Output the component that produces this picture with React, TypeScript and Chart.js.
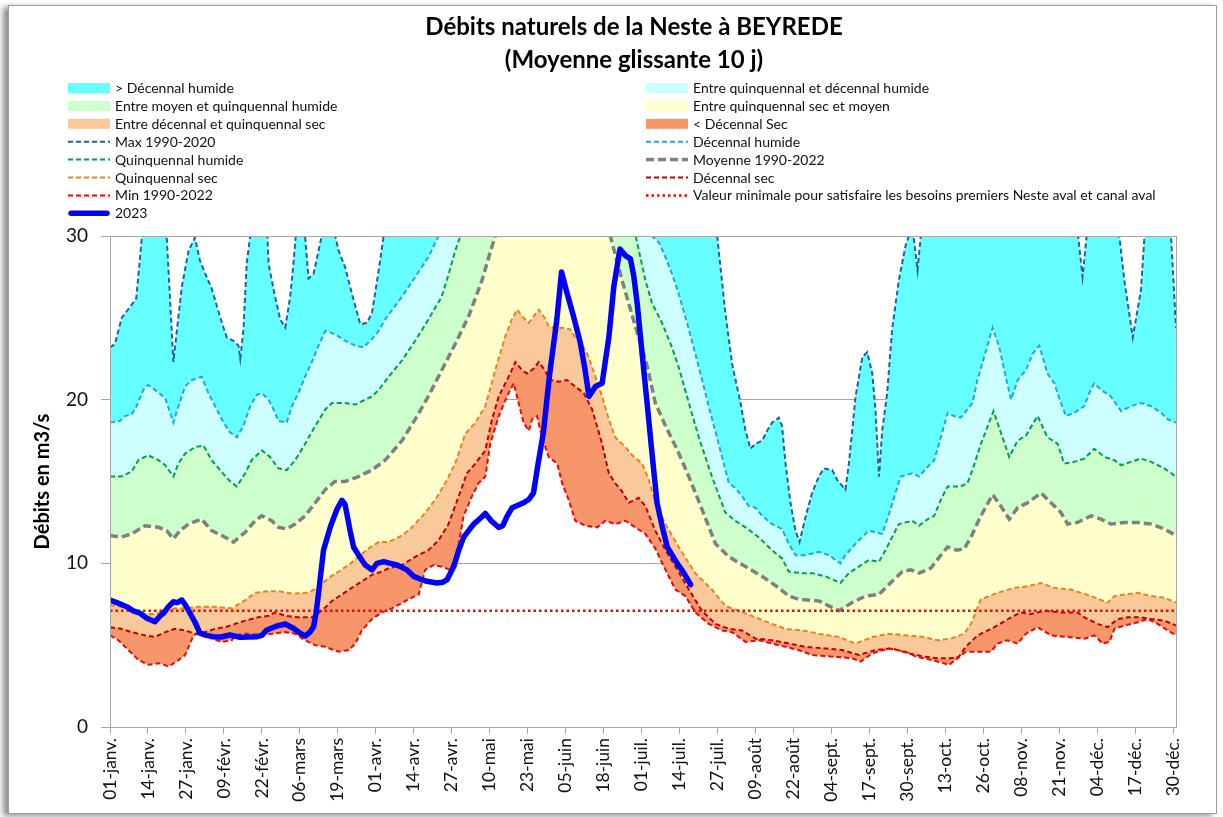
import React, { useEffect, useRef } from "react";
import { Chart, registerables } from "chart.js";

Chart.register(...registerables);

const FONT = "Lato, 'Open Sans', sans-serif";

const titleLines = ["Débits naturels de la Neste à BEYREDE", "(Moyenne glissante 10 j)"];
const yAxisTitle = "Débits en m3/s";

const tickLabels = [
  "01-janv.", "14-janv.", "27-janv.", "09-févr.", "22-févr.", "06-mars", "19-mars", "01-avr.",
  "14-avr.", "27-avr.", "10-mai", "23-mai", "05-juin", "18-juin", "01-juil.", "14-juil.",
  "27-juil.", "09-août", "22-août", "04-sept.", "17-sept.", "30-sept.", "13-oct.", "26-oct.",
  "08-nov.", "21-nov.", "04-déc.", "17-déc.", "30-déc.",
];
const tickDays = [
  0, 13, 26, 39, 52, 65, 78, 91, 104, 117, 130, 143, 156, 169, 182, 195,
  208, 221, 234, 247, 260, 273, 286, 299, 312, 325, 338, 351, 364,
];

// Max 1990-2020
const maxDays = [
  0, 1.7, 4, 7, 9, 12.5, 15, 18.5, 21.7, 23, 24.6, 26.9, 29.1, 30.8, 32.6, 34.8, 38.3, 40, 42.3, 44, 44.6,
  45.7, 46.8, 48, 51, 53, 54.3, 56.5, 58.3, 60, 61.7, 62.8, 63.6, 65.5, 66.8, 68, 69.7, 71.4, 72.5, 74.5,
  77.1, 78.3, 80.5, 82.8, 85.7, 88, 89.7, 92, 93.7, 100, 150, 200, 207.9, 210.7, 213, 215.9, 217.6, 219.3,
  221, 223.3, 225, 226.7, 229, 230.1, 231.3, 233, 234.7, 236.1, 238.1, 240.4, 242.7, 244.4, 247.3, 249,
  251.8, 253, 255.3, 257.6, 259.3, 261, 262.1, 263.3, 264.4, 266.1, 267.8, 270.1, 272.4, 273.5, 274.5,
  276.5, 277.6, 285, 320, 331.5, 333, 334.4, 340, 345.6, 347.3, 350.2, 353, 354.2, 359, 363.3, 365,
];
const maxVals = [
  23.2, 23.4, 25.0, 25.7, 26.2, 33, 36, 33, 22.3, 24.4, 26.9, 29.1, 29.9, 28.5, 27.7, 26.8, 24.7, 23.8, 23.6, 23.3, 22.5,
  24.3, 28.3, 30.0, 30.5, 34, 28.3, 26.3, 24.9, 24.4, 26.3, 28.3, 30, 32, 30, 27.4, 27.7, 29.1, 30, 32.5,
  30, 29.1, 28.1, 26.5, 24.6, 24.7, 25.3, 27.9, 30, 38, 45, 36, 30, 25.3, 22.2, 19.8, 18.1, 17.0,
  17.3, 17.5, 18.1, 18.6, 18.9, 18.4, 16.1, 13.7, 12.0, 11.3, 12.8, 14.3, 15.3, 15.8, 15.7, 15.1,
  14.5, 16.1, 20.2, 22.6, 22.9, 21.6, 19.4, 15.3, 18.1, 20.4, 24.3, 27.3, 29.4, 30, 31,
  27.9, 30, 38, 40, 30, 27.5, 30, 34, 30, 27.3, 23.8, 26.7, 30, 33, 30, 24.4,
];

// Décennal humide
const decHumDays = [
  0, 3.4, 5.1, 7.4, 9.1, 11.4, 13.1, 15.4, 18.9, 20.6, 21.7, 23.4, 25.7, 28, 31.4, 33.7, 36, 38.3, 41.1, 43.4,
  45.7, 48, 50.3, 52, 54.3, 56, 57.7, 60.5, 62.3, 64.5, 66.8, 69.1, 71.4, 73.7, 77.1, 80.5, 84, 86.8, 89.7, 92,
  94.2, 100, 104.5, 109, 112.5, 120, 150, 180, 185.6, 188, 190.2, 192.4, 194.7, 198.2, 201.6, 205, 208.4,
  211.9, 214.1, 216.4, 218.7, 221, 223.3, 226.7, 230.1, 232.4, 234.7, 238.1, 242.7, 246.1, 250.1, 251.8,
  255.3, 259.8, 262.1, 264.4, 266.7, 270.7, 274.7, 277, 280, 282.2, 284.5, 286.8, 289, 291.3, 293.6, 295.3,
  297, 299.3, 302.2, 304.5, 306.2, 308.5, 310.8, 313.6, 315.9, 318.2, 321, 323.3, 325.6, 327.3, 330.2, 333.6,
  335.3, 337, 339.3, 342.7, 346.2, 349.6, 353, 356.5, 359.9, 362.2, 365,
];
const decHumVals = [
  18.6, 18.7, 19.0, 19.1, 19.6, 20.6, 20.9, 20.6, 20.1, 19.2, 18.6, 19.6, 20.8, 21.2, 21.4, 20.4, 19.6, 18.8, 18.0, 17.7,
  18.4, 19.6, 20.3, 20.4, 20.0, 19.4, 18.7, 18.6, 19.6, 20.4, 21.4, 22.3, 23.3, 24.2, 24.0, 23.6, 23.3, 23.2, 23.7, 24.2,
  24.9, 26.3, 27.5, 28.7, 30, 34, 40, 33, 30, 29.6, 28.7, 27.7, 26.5, 24.3, 22.0, 19.6, 17.3,
  14.9, 14.6, 14.1, 13.5, 13.4, 12.9, 12.4, 12.1, 11.2, 10.5, 10.5, 10.7, 10.5, 10.0, 10.5,
  11.2, 12.0, 11.9, 11.8, 13.0, 15.3, 15.5, 15.3, 15.9, 16.3, 17.7, 19.2, 19.0, 18.9, 19.4, 19.8,
  21.2, 22.6, 24.4, 23.2, 21.8, 20.0, 21.2, 21.8, 22.8, 23.3, 21.6, 21.0, 19.8, 19.0, 19.2, 19.6,
  20.4, 21.0, 20.6, 20.2, 19.3, 19.6, 19.8, 19.6, 19.2, 18.8, 18.6,
];

// Quinquennal humide
const quinqHumDays = [
  0, 3.7, 7.4, 9.7, 13.1, 16.6, 18.9, 21.7, 23.4, 25.7, 29.1, 32, 34.8, 37.7, 40.6, 43.4, 46.3, 48.5, 52, 54.8,
  57.7, 60.5, 63.4, 66.8, 70.3, 73.7, 76, 80.5, 84, 87.4, 89.7, 92, 95.4, 100, 104.5, 109, 113.6, 116, 118.2,
  120, 140, 165, 180, 183.3, 185.6, 189, 192.4, 194.7, 198.2, 201.6, 206.1, 210.7, 214.1, 217.6, 222.1, 226.7,
  230.1, 232.4, 237, 240.4, 245, 250.1, 253, 256.4, 259.8, 263.3, 265.5, 270.1, 274.7, 277, 280, 282.2, 284.5,
  286.8, 291.3, 293.6, 295.3, 298.2, 302.5, 305, 307.9, 310.8, 313.6, 317.6, 321, 324.5, 326.7, 330.2, 333.6,
  337, 340.5, 343.9, 346.2, 349.6, 353, 356.5, 361, 365,
];
const quinqHumVals = [
  15.3, 15.3, 15.6, 16.3, 16.6, 16.3, 16.0, 15.3, 16.1, 16.7, 17.1, 17.2, 16.3, 15.7, 15.1, 14.7, 15.5, 16.3, 16.9, 16.5,
  15.8, 15.7, 16.3, 17.3, 18.4, 19.4, 19.8, 19.8, 19.7, 20.0, 20.2, 20.6, 21.4, 22.4, 23.6, 24.9, 26.3, 27.7, 29.1,
  30, 38, 40, 30, 27.3, 25.9, 24.7, 23.2, 22.0, 19.8, 17.7, 15.3, 13.1, 12.6, 12.2, 11.6, 10.8,
  10.3, 9.5, 9.4, 9.4, 9.2, 8.8, 9.4, 9.8, 10.2, 10.1, 10.8, 12.4, 12.6, 12.3, 12.7, 12.9, 13.9,
  14.7, 14.7, 14.9, 15.7, 17.3, 19.3, 18.0, 16.5, 17.5, 17.8, 19.0, 17.7, 17.3, 16.1, 16.2, 16.4,
  17.0, 16.5, 16.3, 16.0, 16.2, 16.4, 16.2, 15.8, 15.3,
];

// Moyenne 1990-2022
const moyDays = [
  0, 3.7, 7.4, 12, 16.6, 19.4, 21.7, 24, 26.9, 31.4, 34.8, 38.3, 42.3, 46.3, 49.7, 52, 55.4, 57.7, 60.5, 63.4,
  66.8, 70.3, 73.7, 77, 80.5, 85.1, 89.7, 94.2, 100, 104.5, 109, 113.6, 118.2, 122.8, 127.4, 130, 131.9, 150,
  165, 171.3, 175, 179.2, 184, 186.7, 190.2, 194.3, 198.2, 202.7, 207.3, 211.9, 217.6, 223.3, 229, 232.4, 235.8,
  242.7, 246.1, 249.6, 254.1, 258.7, 263.3, 267.8, 271.3, 274.2, 277, 281, 284.5, 286.8, 290, 292.5, 294.8,
  298.2, 302.2, 305, 307.9, 310.8, 314.2, 318.8, 322.2, 325.6, 327.9, 331.3, 335.9, 339.3, 342.7, 347.3, 351.9,
  356.5, 361, 365,
];
const moyVals = [
  11.7, 11.6, 11.8, 12.3, 12.2, 12.0, 11.5, 12.0, 12.4, 12.7, 12.0, 11.7, 11.3, 11.9, 12.6, 12.9, 12.6, 12.2, 12.1, 12.4,
  12.9, 13.7, 14.5, 15.0, 15.0, 15.3, 15.7, 16.3, 17.5, 18.8, 20.2, 21.8, 23.4, 25.1, 27.3, 28.9, 30, 38,
  34, 30, 27.5, 24.9, 22.0, 19.8, 18.4, 16.9, 15.3, 13.3, 11.2, 10.4, 9.8, 9.2, 8.5, 8.0, 7.8,
  7.7, 7.4, 7.1, 7.6, 8.0, 8.1, 8.9, 9.5, 9.6, 9.4, 9.7, 10.5, 11.0, 10.8, 10.9, 11.6,
  12.9, 14.2, 13.5, 12.7, 13.4, 13.7, 14.3, 13.7, 13.1, 12.4, 12.5, 12.9, 12.7, 12.4, 12.5, 12.5,
  12.4, 12.1, 11.7,
];

// Quinquennal sec
const quinqSecDays = [
  0, 3.7, 7.4, 12, 15.4, 18.9, 22.3, 25.7, 30.3, 36, 41.7, 46.3, 49.7, 54.3, 57.7, 62.3, 68, 71.4, 74.8, 78.3,
  81.7, 85.1, 88.5, 92, 95.4, 100, 103.4, 108, 111.4, 114.8, 118.2, 121.6, 125.1, 128.5, 131.9, 135.4, 137.6,
  139.4, 141.6, 143.4, 145.1, 146.8, 148.5, 150.2, 153, 154.8, 157.6, 159.3, 161.6, 163.9, 166.2, 168.5, 170.8,
  173, 176.5, 178.8, 182.2, 184.5, 186.7, 190.2, 194.7, 200.4, 206.1, 210.7, 215.3, 221, 226.7, 231.3, 237,
  242.7, 249.6, 255.3, 261, 266.7, 272.4, 278.8, 283.3, 287.9, 292.5, 294.8, 298.2, 303.9, 309.6, 314.2, 318.8,
  323.3, 329, 335.9, 341.6, 343.9, 347.3, 351.9, 356.5, 361, 365,
];
const quinqSecVals = [
  7.45, 7.35, 7.15, 6.9, 6.9, 7.1, 7.25, 7.25, 7.35, 7.35, 7.25, 7.75, 8.2, 8.3, 8.3, 8.15, 8.2, 8.55, 9.1, 9.5,
  9.9, 10.4, 10.9, 11.3, 11.3, 11.7, 12.2, 13.1, 13.9, 14.9, 16.1, 17.9, 18.6, 19.6, 21.8, 23.9, 24.9,
  25.5, 25.0, 24.7, 25.1, 25.5, 25.1, 24.5, 24.3, 24.4, 24.3, 23.8, 23.4, 22.6, 21.4, 20.2, 18.8,
  17.7, 17.1, 16.6, 16.1, 15.1, 13.7, 12.4, 11.0, 9.4, 8.4, 7.4, 7.1, 6.7, 6.3, 6.0, 5.9,
  5.7, 5.5, 5.1, 5.5, 5.7, 5.6, 5.5, 5.3, 5.4, 5.7, 6.3, 7.8, 8.2, 8.5, 8.6, 8.8,
  8.5, 8.4, 8.0, 7.6, 8.0, 8.1, 8.2, 8.0, 7.9, 7.6,
];

// Décennal sec
const decSecDays = [
  0, 3.7, 7.4, 12, 15.4, 18.9, 22.3, 25.7, 29.1, 32.6, 36, 39.4, 42.8, 46.3, 50.8, 54.3, 56.5, 60, 64.5, 69.1,
  72.5, 76, 79.4, 82.8, 86.3, 89.7, 93.1, 95.4, 100, 104.5, 109, 112.5, 115.9, 119.4, 122.2, 125.1, 128.5,
  130.8, 133.1, 136.5, 138.8, 141.1, 142.8, 145.1, 146.8, 148.5, 150.8, 153.7, 156.5, 159.3, 162.2, 165.1,
  168.5, 170.8, 173, 175.3, 177.6, 181, 183.3, 186.7, 190.2, 193.6, 198.2, 202.7, 207.3, 211.9, 216.4, 221,
  226.7, 232.4, 238.1, 245, 250.7, 256.4, 262.1, 267.8, 273.5, 278.8, 283.3, 287.9, 290.7, 293, 297.1, 302.8,
  308.5, 311.9, 315.3, 319.9, 325.6, 331.3, 333.6, 338.2, 341.6, 345, 348.5, 353, 356.5, 361, 365,
];
const decSecVals = [
  6.1, 6.0, 5.8, 5.6, 5.5, 5.8, 6.0, 5.9, 5.7, 5.8, 6.0, 6.1, 6.3, 6.5, 6.7, 6.8, 7.0, 6.8, 6.7, 6.7,
  7.1, 7.7, 8.1, 8.5, 8.9, 9.3, 9.5, 9.7, 9.9, 10.4, 10.8, 11.4, 12.4, 14.1, 15.5, 16.1, 16.9,
  18.8, 20.2, 21.4, 22.3, 21.8, 21.6, 21.9, 22.3, 21.9, 21.2, 21.1, 21.2, 20.8, 20.4, 19.4,
  17.3, 15.5, 14.9, 14.4, 13.7, 14.0, 13.5, 12.0, 10.8, 9.8, 8.4, 7.1, 6.3, 6.0, 5.9, 5.4,
  5.3, 5.1, 4.9, 4.8, 4.7, 4.4, 4.7, 4.8, 4.5, 4.3, 4.2, 4.2, 4.3, 4.9, 5.6, 6.1,
  6.7, 7.0, 6.9, 7.1, 7.0, 7.0, 6.7, 6.3, 6.1, 6.6, 6.7, 6.7, 6.6, 6.5, 6.2,
];

// Min 1990-2022
const minDays = [
  0, 2.9, 6.3, 9.7, 13.1, 17.1, 20, 22.8, 25.7, 28.6, 31.4, 34.8, 38.3, 41.7, 42.8, 46.3, 50.8, 55.4, 60, 63.4,
  66.8, 70.3, 73.7, 78.3, 81.7, 84, 86.2, 89.7, 93.1, 96.5, 102.2, 105.7, 107.9, 110.8, 113.6, 116.5, 118.8,
  121.1, 123.9, 126.2, 128.5, 130.2, 133.1, 135.9, 138.2, 139.9, 141.6, 143.4, 144.5, 146.2, 147.9, 150.2,
  153.1, 154.8, 157, 159.3, 162.8, 166.8, 169.6, 173, 176.5, 179.9, 183.3, 186.7, 190.2, 193.6, 197, 200.4,
  205, 209.6, 213, 215.3, 217.6, 222.1, 226.7, 231.3, 235.8, 240.4, 247.3, 254.1, 257, 261, 266.7, 272.4,
  276, 278.8, 283.3, 287.3, 290.2, 293, 297.1, 301.6, 303.9, 307.3, 310.8, 313.6, 317.6, 322.2, 327.9, 333.6,
  337, 339.9, 342.2, 343.9, 347.3, 351.9, 355.3, 358.7, 362.2, 365,
];
const minVals = [
  5.6, 5.3, 4.7, 4.1, 3.8, 3.9, 3.7, 4.0, 4.4, 5.6, 5.8, 5.4, 5.2, 5.3, 5.6, 5.7, 5.65, 5.7, 5.8, 5.7,
  5.3, 5.0, 4.9, 4.6, 4.7, 5.1, 5.9, 6.6, 7.0, 7.25, 7.8, 8.1, 9.6, 9.9, 9.8, 9.6, 10.6,
  12.9, 14.1, 14.9, 15.3, 17.3, 19.0, 20.2, 21.0, 19.8, 18.6, 18.1, 18.8, 19.0, 17.7, 16.5,
  16.1, 14.9, 13.9, 12.6, 12.3, 12.2, 12.6, 12.4, 12.6, 12.2, 11.8, 10.9, 9.6, 8.4, 8.0, 7.0,
  6.3, 5.9, 5.8, 5.5, 5.2, 5.3, 5.1, 4.9, 4.7, 4.4, 4.3, 4.2, 4.0, 4.5, 4.8, 4.6,
  4.3, 4.2, 4.0, 3.8, 4.2, 4.6, 4.6, 4.6, 5.1, 5.3, 5.1, 5.7, 6.1, 5.6, 5.5, 5.4,
  5.6, 5.1, 5.2, 6.0, 6.2, 6.4, 6.6, 6.3, 5.9, 5.6,
];

// 2023
const y2023Days = [
  0, 3, 5.7, 8, 10.3, 12.6, 15.4, 17, 18.3, 20, 21.7, 23, 24.6, 26, 27.4, 29.1, 30.8, 33, 35.4, 38, 41.1,
  44.6, 47.4, 50.3, 52, 53.7, 57.1, 60, 62.8, 65, 66.8, 68.5, 69.7, 70.6, 71.4, 73.1, 75.4, 77.7, 79.4, 80.5,
  82.2, 83.4, 85.1, 87.4, 89.7, 91.4, 93.7, 96, 98.3, 101.7, 104, 106.8, 108.5, 112, 114, 115.4, 117.7, 119.4,
  121.1, 124.5, 126.5, 128.5, 130.5, 133.1, 134.5, 135.9, 137.7, 141.6, 143.4, 145, 146.5, 148.4, 150.5, 153,
  154.6, 156.5, 158.7, 161, 162.5, 164, 166.2, 168.5, 170.8, 172.5, 174.6, 176.5, 178.2, 179.3, 180.5, 182.2,
  183.9, 185.6, 187.3, 189, 190.8, 192.5, 194.2, 196.5, 198.8,
];
const y2023Vals = [
  7.76, 7.55, 7.35, 7.1, 6.95, 6.65, 6.43, 6.75, 6.95, 7.35, 7.65, 7.6, 7.76, 7.4, 6.96, 6.4, 5.74, 5.6, 5.52, 5.5, 5.62,
  5.48, 5.5, 5.52, 5.6, 5.93, 6.17, 6.29, 6.03, 5.75, 5.56, 5.8, 6.13, 7.0, 8.17, 10.8, 12.2, 13.3, 13.85, 13.6,
  12.0, 11.0, 10.5, 9.9, 9.6, 10.0, 10.1, 10.0, 9.9, 9.6, 9.2, 9.0, 8.9, 8.8, 8.85, 9.0, 9.8, 10.8,
  11.6, 12.4, 12.7, 13.05, 12.6, 12.2, 12.3, 12.85, 13.4, 13.7, 13.9, 14.3, 16.0, 18.0, 21.5, 24.9,
  27.8, 26.5, 25.1, 23.5, 22.0, 20.2, 20.8, 21.0, 23.8, 26.9, 29.2, 28.8, 28.6, 27.6, 25.9, 22.8,
  19.8, 16.7, 13.7, 12.3, 11.0, 10.5, 10.0, 9.4, 8.7,
];

// Valeur minimale pour satisfaire les besoins premiers
const seuilDays = [0, 365];
const seuilVals = [7.1, 7.1];

const C = {
  cyan: "#66FFFF",
  lightCyan: "#CCFFFF",
  lightGreen: "#CCFFCC",
  lightYellow: "#FFFFCC",
  lightOrange: "#FAC99A",
  darkOrange: "#F6966A",
  max: "#1F5FAD",
  decHum: "#1EA6E6",
  quinqHum: "#00A04C",
  moy: "#808080",
  quinqSec: "#E8821E",
  decSec: "#C00000",
  min: "#FF0000",
  seuil: "#FF0000",
  y2023: "#0000FF",
};

const DASH = [5, 3];
const DASH_MOY = [8, 4];
const DOT = [2.5, 3];

type LegendItem = { label: string; kind: "fill" | "line"; color: string; width?: number; dash?: number[] };

const legendItems: LegendItem[] = [
  { label: "> Décennal humide", kind: "fill", color: C.cyan },
  { label: "Entre quinquennal et décennal humide", kind: "fill", color: C.lightCyan },
  { label: "Entre moyen et quinquennal humide", kind: "fill", color: C.lightGreen },
  { label: "Entre quinquennal sec et moyen", kind: "fill", color: C.lightYellow },
  { label: "Entre décennal et quinquennal sec", kind: "fill", color: C.lightOrange },
  { label: "< Décennal Sec", kind: "fill", color: C.darkOrange },
  { label: "Max 1990-2020", kind: "line", color: C.max, width: 2, dash: DASH },
  { label: "Décennal humide", kind: "line", color: C.decHum, width: 2, dash: DASH },
  { label: "Quinquennal humide", kind: "line", color: C.quinqHum, width: 2, dash: DASH },
  { label: "Moyenne 1990-2022", kind: "line", color: C.moy, width: 3.5, dash: DASH_MOY },
  { label: "Quinquennal sec", kind: "line", color: C.quinqSec, width: 2, dash: DASH },
  { label: "Décennal sec", kind: "line", color: C.decSec, width: 2, dash: DASH },
  { label: "Min 1990-2022", kind: "line", color: C.min, width: 2, dash: DASH },
  { label: "Valeur minimale pour satisfaire les besoins premiers Neste aval et canal aval", kind: "line", color: C.seuil, width: 2.5, dash: DOT },
  { label: "2023", kind: "line", color: C.y2023, width: 5.5 },
];

const pts = (days: number[], vals: number[]) => days.map((d, i) => ({ x: d, y: vals[i] }));

const titleLegendPlugin = {
  id: "titleLegend",
  afterDraw(chart: any) {
    const ctx = chart.ctx as CanvasRenderingContext2D;
    ctx.save();
    // title
    ctx.fillStyle = "#000";
    ctx.textAlign = "center";
    ctx.textBaseline = "middle";
    ctx.font = `bold 24px ${FONT}`;
    ctx.fillText(titleLines[0], 634, 27);
    ctx.fillText(titleLines[1], 634, 60);
    // legend
    ctx.font = `14px ${FONT}`;
    ctx.textAlign = "left";
    const colX = [68, 646];
    legendItems.forEach((it, i) => {
      const x0 = colX[i % 2];
      const y = 88 + Math.floor(i / 2) * 17.9;
      if (it.kind === "fill") {
        ctx.fillStyle = it.color;
        ctx.fillRect(x0, y - 5, 42, 10);
      } else {
        ctx.save();
        ctx.strokeStyle = it.color;
        ctx.lineWidth = it.width || 2;
        ctx.setLineDash(it.dash || []);
        ctx.lineCap = it.dash ? "butt" : "round";
        ctx.beginPath();
        const pad = it.dash ? 0 : 3;
        ctx.moveTo(x0 + pad, y);
        ctx.lineTo(x0 + 42 - pad, y);
        ctx.stroke();
        ctx.restore();
      }
      ctx.fillStyle = "#111";
      ctx.fillText(it.label, x0 + 47, y + 0.5);
    });
    ctx.restore();
  },
  afterDatasetsDraw(chart: any) {
    const { ctx, chartArea } = chart;
    ctx.save();
    ctx.strokeStyle = "#a6a6a6";
    ctx.lineWidth = 1;
    ctx.strokeRect(Math.round(chartArea.left) + 0.5, Math.round(chartArea.top) + 0.5,
      Math.round(chartArea.right - chartArea.left), Math.round(chartArea.bottom - chartArea.top));
    ctx.restore();
  },
};

export default function App() {
  const ref = useRef<HTMLCanvasElement>(null);

  useEffect(() => {
    const base = { pointRadius: 0, pointHoverRadius: 0, tension: 0, clip: 0 as any };
    const chart = new Chart(ref.current as HTMLCanvasElement, {
      type: "line",
      data: {
        datasets: [
          { ...base, label: "2023", data: pts(y2023Days, y2023Vals), borderColor: C.y2023, borderWidth: 5.5, borderCapStyle: "round", borderJoinStyle: "round", fill: false },
          { ...base, label: "Valeur minimale", data: pts(seuilDays, seuilVals), borderColor: C.seuil, borderWidth: 2.5, borderDash: DOT, fill: false },
          { ...base, label: "Min 1990-2022", data: pts(minDays, minVals), borderColor: C.min, borderWidth: 2, borderDash: DASH, fill: false },
          { ...base, label: "Décennal sec", data: pts(decSecDays, decSecVals), borderColor: C.decSec, borderWidth: 2, borderDash: DASH, fill: 2, backgroundColor: C.darkOrange },
          { ...base, label: "Quinquennal sec", data: pts(quinqSecDays, quinqSecVals), borderColor: C.quinqSec, borderWidth: 2, borderDash: DASH, fill: 3, backgroundColor: C.lightOrange },
          { ...base, label: "Moyenne 1990-2022", data: pts(moyDays, moyVals), borderColor: C.moy, borderWidth: 3.5, borderDash: DASH_MOY, fill: 4, backgroundColor: C.lightYellow },
          { ...base, label: "Quinquennal humide", data: pts(quinqHumDays, quinqHumVals), borderColor: C.quinqHum, borderWidth: 2, borderDash: DASH, fill: 5, backgroundColor: C.lightGreen },
          { ...base, label: "Décennal humide", data: pts(decHumDays, decHumVals), borderColor: C.decHum, borderWidth: 2, borderDash: DASH, fill: 6, backgroundColor: C.lightCyan },
          { ...base, label: "Max 1990-2020", data: pts(maxDays, maxVals), borderColor: C.max, borderWidth: 2, borderDash: DASH, fill: 7, backgroundColor: C.cyan },
        ] as any,
      },
      options: {
        responsive: false,
        animation: false,
        devicePixelRatio: 1,
        layout: { padding: { left: 0, right: 47, top: 236, bottom: 0 } },
        plugins: {
          legend: { display: false },
          title: { display: false },
          tooltip: { enabled: false },
          filler: { propagate: false, drawTime: "beforeDatasetsDraw" },
        } as any,
        scales: {
          x: {
            type: "linear",
            min: 0,
            max: 365,
            afterBuildTicks: (s: any) => {
              s.ticks = tickDays.map((v) => ({ value: v }));
            },
            afterFit: (s: any) => {
              s.height = 90;
            },
            ticks: {
              autoSkip: false,
              maxRotation: 90,
              minRotation: 90,
              padding: 4,
              color: "#111",
              font: { family: FONT, size: 17.5 },
              callback: (v: any) => tickLabels[tickDays.indexOf(Number(v))] ?? "",
            },
            grid: { display: true, drawOnChartArea: false, drawTicks: true, tickLength: 7, color: "#a6a6a6" },
            border: { display: true, color: "#a6a6a6" },
          },
          y: {
            min: 0,
            max: 30,
            afterFit: (s: any) => {
              s.width = 110;
            },
            ticks: { stepSize: 10, padding: 13, color: "#111", font: { family: FONT, size: 19 } },
            grid: { color: "#a6a6a6", tickLength: 9, drawTicks: true },
            border: { display: true, color: "#a6a6a6" },
            title: {
              display: true,
              text: yAxisTitle,
              color: "#000",
              font: { family: FONT, size: 20, weight: "bold" },
              padding: { top: 31, bottom: 0 },
            },
          },
        } as any,
      },
      plugins: [titleLegendPlugin],
    });
    return () => chart.destroy();
  }, []);

  return (
    <div style={{ position: "absolute", left: 0, top: 0, width: 1223, height: 817, background: "#fff", overflow: "hidden" }}>
      <div
        style={{
          position: "absolute",
          left: 8,
          top: 5,
          width: 1209,
          height: 809,
          border: "1px solid #9c9c9c",
          boxShadow: "-5px 2px 6px rgba(0,0,0,0.45)",
          background: "#fff",
          boxSizing: "border-box",
        }}
      />
      <canvas
        ref={ref}
        width={1223}
        height={817}
        style={{ position: "absolute", left: 0, top: 0, width: 1223, height: 817 }}
      />
    </div>
  );
}
